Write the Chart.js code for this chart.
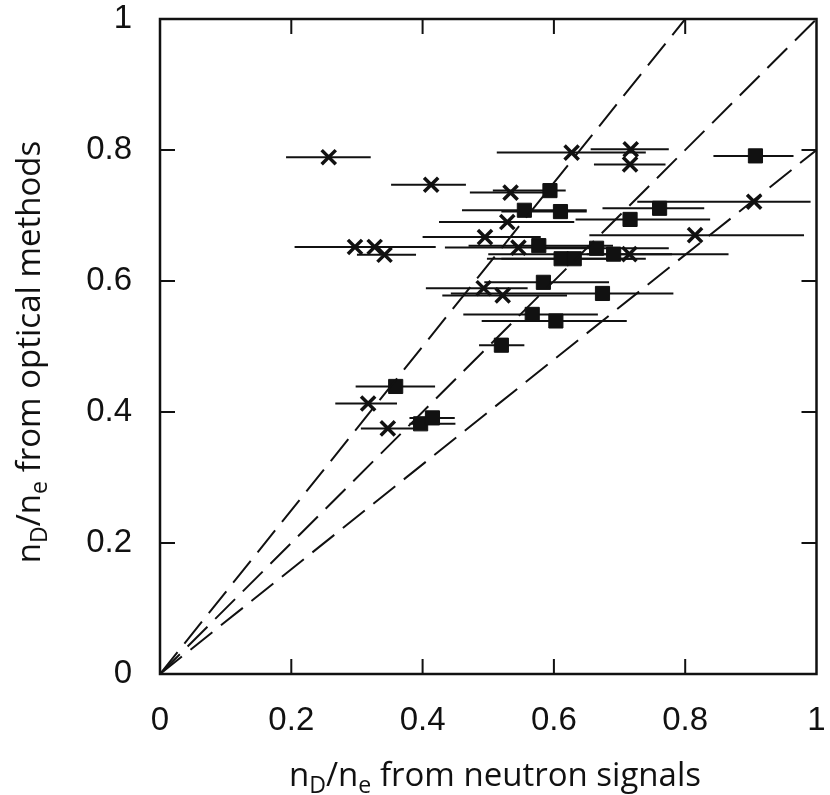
<!DOCTYPE html>
<html>
<head>
<meta charset="utf-8">
<script src="https://cdn.jsdelivr.net/npm/chart.js@4.4.0/dist/chart.umd.min.js"></script>
<style>
  html, body { margin: 0; padding: 0; background: #fff; }
</style>
</head>
<body>
<canvas id="myChart" width="830" height="795"></canvas>
<script>
// crosses (x marks) with horizontal error bars
const crossX   = [0.257, 0.297, 0.327, 0.342, 0.413, 0.627, 0.717, 0.716, 0.534, 0.529, 0.495, 0.546, 0.715, 0.493, 0.522, 0.815, 0.905, 0.317, 0.347];
const crossY   = [0.789, 0.652, 0.652, 0.640, 0.747, 0.796, 0.801, 0.778, 0.735, 0.690, 0.667, 0.651, 0.641, 0.589, 0.578, 0.670, 0.721, 0.413, 0.375];
const crossXLo = [0.192, 0.205, 0.270, 0.300, 0.352, 0.513, 0.656, 0.661, 0.472, 0.425, 0.400, 0.434, 0.650, 0.405, 0.430, 0.654, 0.727, 0.267, 0.306];
const crossXHi = [0.321, 0.400, 0.420, 0.390, 0.466, 0.740, 0.775, 0.770, 0.600, 0.631, 0.580, 0.653, 0.780, 0.560, 0.620, 0.981, 0.991, 0.361, 0.390];

// filled squares with horizontal error bars
const squareX   = [0.907, 0.594, 0.555, 0.610, 0.716, 0.761, 0.577, 0.665, 0.691, 0.611, 0.631, 0.584, 0.674, 0.567, 0.603, 0.520, 0.359, 0.397, 0.415];
const squareY   = [0.791, 0.738, 0.708, 0.706, 0.694, 0.711, 0.654, 0.650, 0.641, 0.634, 0.634, 0.598, 0.581, 0.549, 0.539, 0.502, 0.439, 0.382, 0.391];
const squareXLo = [0.843, 0.507, 0.460, 0.520, 0.633, 0.674, 0.470, 0.580, 0.500, 0.498, 0.520, 0.494, 0.443, 0.462, 0.490, 0.486, 0.298, 0.380, 0.380];
const squareXHi = [0.965, 0.618, 0.650, 0.650, 0.838, 0.829, 0.690, 0.775, 0.866, 0.720, 0.740, 0.684, 0.782, 0.667, 0.711, 0.555, 0.419, 0.450, 0.449];

// dashed reference lines y = k * x
const refSlopes = [1.25, 1.0, 0.8];

const tickValues = [0, 0.2, 0.4, 0.6, 0.8, 1];
const tickLabels = ['0', '0.2', '0.4', '0.6', '0.8', '1'];

const xTitle = [['n', 0], ['D', 1], ['/n', 0], ['e', 1], [' from neutron signals', 0]];
const yTitle = [['n', 0], ['D', 1], ['/n', 0], ['e', 1], [' from optical methods', 0]];

const ink = '#111';
const tickFont = { family: "'Liberation Sans', Arial, sans-serif", size: 33 };
const titleFamily = "'Open Sans', 'DejaVu Sans', sans-serif";
const titleSize = 33;

function toPoints(xs, ys) {
  return xs.map((x, i) => ({ x: x, y: ys[i] }));
}

function refLine(k) {
  const xEnd = Math.min(1, 1 / k);
  return [{ x: 0, y: 0 }, { x: xEnd, y: k * xEnd }];
}

function labelWidth(ctx, parts, size) {
  let w = 0;
  parts.forEach(([t, sub]) => {
    ctx.font = (sub ? size * 0.7 : size) + 'px ' + titleFamily;
    w += ctx.measureText(t).width;
  });
  return w;
}

function drawLabel(ctx, parts, x, y, size) {
  let cx = x;
  parts.forEach(([t, sub]) => {
    ctx.font = (sub ? size * 0.7 : size) + 'px ' + titleFamily;
    ctx.fillText(t, cx, sub ? y + size * 0.22 : y);
    cx += ctx.measureText(t).width;
  });
}

const decorations = {
  id: 'decorations',
  beforeDatasetsDraw(chart) {
    const ctx = chart.ctx, xs = chart.scales.x, ys = chart.scales.y;
    ctx.save();
    ctx.strokeStyle = ink;
    ctx.lineWidth = 2;
    [[crossY, crossXLo, crossXHi], [squareY, squareXLo, squareXHi]].forEach(([yv, lo, hi]) => {
      yv.forEach((v, i) => {
        const py = ys.getPixelForValue(v);
        ctx.beginPath();
        ctx.moveTo(xs.getPixelForValue(lo[i]), py);
        ctx.lineTo(xs.getPixelForValue(hi[i]), py);
        ctx.stroke();
      });
    });
    ctx.restore();
  },
  afterDraw(chart) {
    const ctx = chart.ctx, a = chart.chartArea, xs = chart.scales.x, ys = chart.scales.y;
    const len = 15;
    ctx.save();
    ctx.strokeStyle = ink;
    ctx.lineWidth = 2.5;
    ctx.strokeRect(a.left, a.top, a.right - a.left, a.bottom - a.top);
    ctx.lineWidth = 2;
    ctx.beginPath();
    tickValues.slice(1, -1).forEach(v => {
      const px = xs.getPixelForValue(v), py = ys.getPixelForValue(v);
      ctx.moveTo(px, a.bottom); ctx.lineTo(px, a.bottom - len);
      ctx.moveTo(px, a.top); ctx.lineTo(px, a.top + len);
      ctx.moveTo(a.left, py); ctx.lineTo(a.left + len, py);
      ctx.moveTo(a.right, py); ctx.lineTo(a.right - len, py);
    });
    ctx.stroke();

    // axis titles with subscripts
    ctx.fillStyle = ink;
    ctx.textBaseline = 'alphabetic';
    ctx.textAlign = 'left';
    const wx = labelWidth(ctx, xTitle, titleSize);
    drawLabel(ctx, xTitle, 495 - wx / 2, 786, titleSize);

    const wy = labelWidth(ctx, yTitle, titleSize);
    ctx.translate(40, 352);
    ctx.rotate(-Math.PI / 2);
    drawLabel(ctx, yTitle, -wy / 2, 0, titleSize);
    ctx.restore();
  }
};

const datasets = refSlopes.map(k => ({
  data: refLine(k),
  showLine: true,
  borderColor: ink,
  borderWidth: 2,
  borderDash: [28, 11],
  pointRadius: 0,
  fill: false
}));

datasets.push({
  label: 'crosses',
  data: toPoints(crossX, crossY),
  pointStyle: 'crossRot',
  pointRadius: 10,
  borderColor: ink,
  borderWidth: 3.5,
  showLine: false
});

datasets.push({
  label: 'squares',
  data: toPoints(squareX, squareY),
  pointStyle: 'rect',
  pointRadius: 10,
  backgroundColor: ink,
  borderColor: ink,
  borderWidth: 1,
  showLine: false
});

const axisTicks = axis => { axis.ticks = tickValues.map(v => ({ value: v })); };
const noPad = s => { s.paddingTop = 0; s.paddingBottom = 0; s.paddingLeft = 0; s.paddingRight = 0; };

const ctx = document.getElementById('myChart').getContext('2d');
new Chart(ctx, {
  type: 'scatter',
  data: { datasets: datasets },
  options: {
    responsive: false,
    animation: false,
    layout: { padding: { top: 19, right: 12, left: 0, bottom: 0 } },
    plugins: { legend: { display: false }, tooltip: { enabled: false } },
    scales: {
      x: {
        type: 'linear', min: 0, max: 1,
        afterBuildTicks: axisTicks,
        afterFit: s => { s.height = 121; noPad(s); },
        grid: { display: false },
        border: { display: false },
        ticks: {
          color: ink, font: tickFont, padding: 19, maxRotation: 0, autoSkip: false,
          callback: v => tickLabels[tickValues.indexOf(v)]
        }
      },
      y: {
        type: 'linear', min: 0, max: 1,
        afterBuildTicks: axisTicks,
        afterFit: s => { s.width = 160; noPad(s); },
        grid: { display: false },
        border: { display: false },
        ticks: {
          color: ink, font: tickFont, padding: 20, autoSkip: false,
          callback: v => tickLabels[tickValues.indexOf(v)]
        }
      }
    }
  },
  plugins: [decorations]
});
</script>
</body>
</html>
